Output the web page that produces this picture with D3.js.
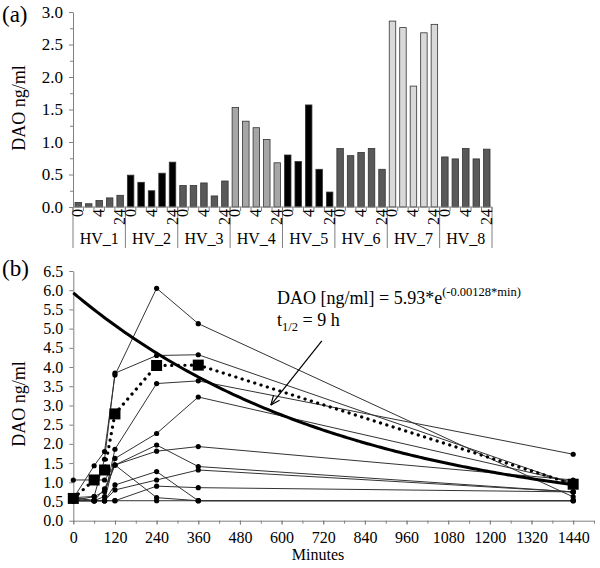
<!DOCTYPE html>
<html><head><meta charset="utf-8">
<script src="https://cdn.jsdelivr.net/npm/d3@7"></script>
<style>body{margin:0;background:#fff}svg{display:block}</style>
</head><body>
<svg id="c" width="600" height="568"></svg>
<script>
// ---------- Panel (a) data ----------
const groups = ["HV_1","HV_2","HV_3","HV_4","HV_5","HV_6","HV_7","HV_8"];
const timeLabels = ["0","","4","","24"];
const groupColors = ["#595959","#000000","#595959","#a6a6a6","#000000","#595959","#d9d9d9","#595959"];
const hv1 = [0.07,0.05,0.10,0.14,0.18];
const hv2 = [0.49,0.38,0.25,0.52,0.69];
const hv3 = [0.33,0.33,0.37,0.17,0.40];
const hv4 = [1.53,1.32,1.22,1.04,0.68];
const hv5 = [0.80,0.70,1.57,0.58,0.23];
const hv6 = [0.90,0.79,0.84,0.90,0.58];
const hv7 = [2.86,2.76,1.86,2.68,2.81];
const hv8 = [0.77,0.74,0.90,0.74,0.89];
const barValues = [hv1,hv2,hv3,hv4,hv5,hv6,hv7,hv8];
const yTicksA = [0,0.5,1.0,1.5,2.0,2.5,3.0];

// ---------- Panel (b) data ----------
const times = [0,60,90,120,240,360,1440];
const s1  = [0.58,1.43,1.80,3.79,6.05,5.13,0.62];
const s2  = [0.60,0.63,1.60,3.84,4.30,4.32,0.95];
const s3  = [0.52,0.52,0.63,1.86,3.57,3.64,1.73];
const s4  = [0.60,0.52,0.52,1.62,2.27,3.22,1.00];
const s5  = [1.06,1.06,1.06,1.45,1.97,1.41,0.75];
const s6  = [0.52,0.63,0.76,1.45,1.81,1.93,1.06];
const s7  = [0.60,0.52,0.52,0.93,1.28,0.52,0.52];
const s8  = [0.52,0.52,0.52,0.80,1.06,1.32,0.75];
const s9  = [0.52,0.52,0.52,0.52,0.90,0.86,0.75];
const s10 = [0.52,0.52,0.83,1.45,0.60,0.52,0.52];
const s11 = [0.52,0.52,0.52,0.52,0.52,0.52,0.52];
const subjects = [s1,s2,s3,s4,s5,s6,s7,s8,s9,s10,s11];
const meanValues = [0.58,1.06,1.32,2.78,4.04,4.05,0.95];
const fitA = 5.93, fitK = 0.00128;
const yTicksB = d3.range(0, 6.51, 0.5);
const xTicksB = d3.range(0, 1441, 120);
const xMinorB = d3.range(0, 1501, 60);

const font = '"Liberation Serif","Times New Roman",Times,serif';
const axisColor = "#808080";
const svg = d3.select("#c");

// ================= Panel (a) =================
const cats = groups.flatMap((g, gi) => timeLabels.map((t, ti) => ({g, gi, ti, t, v: barValues[gi][ti], key: g + "_" + ti})));
const xA = d3.scaleBand().domain(cats.map(d => d.key)).range([73, 492]).paddingInner(0.38).paddingOuter(0.19);
const yA = d3.scaleLinear().domain([0, 3]).range([207, 12]);
const gA = svg.append("g");

function styleAxis(g, fs) {
  g.attr("font-family", null).attr("font-size", null);
  g.select(".domain").attr("stroke", axisColor);
  g.selectAll(".tick line").attr("stroke", axisColor);
  g.selectAll(".tick text").attr("fill", "#000").style("font-size", fs + "px");
}

gA.append("g").attr("transform", "translate(73,0)")
  .call(d3.axisLeft(yA).tickValues(d3.range(0.25, 3, 0.5)).tickSize(3).tickFormat(""))
  .call(g => { g.select(".domain").remove(); g.selectAll("line").attr("stroke", axisColor); });
gA.append("g").attr("transform", "translate(73,0)")
  .call(d3.axisLeft(yA).tickValues(yTicksA).tickFormat(d3.format(".1f")).tickSize(4).tickSizeOuter(0).tickPadding(6))
  .call(g => styleAxis(g, 17));

gA.selectAll("rect.bar").data(cats).join("rect").attr("class", "bar")
  .attr("x", d => xA(d.key)).attr("width", xA.bandwidth())
  .attr("y", d => yA(d.v)).attr("height", d => yA(0) - yA(d.v))
  .attr("fill", d => groupColors[d.gi]).attr("stroke", "#333").attr("stroke-width", 0.8);

const half = xA.step() * xA.paddingInner() / 2;
const bnds = cats.map(d => xA(d.key) - half).concat([xA(cats[cats.length - 1].key) + xA.bandwidth() + half]);
gA.append("line").attr("x1", bnds[0]).attr("x2", bnds[bnds.length - 1]).attr("y1", yA(0)).attr("y2", yA(0)).attr("stroke", axisColor);
gA.selectAll("line.ct").data(bnds).join("line").attr("class", "ct")
  .attr("x1", d => d).attr("x2", d => d).attr("y1", yA(0)).attr("y2", yA(0) + 4).attr("stroke", axisColor);
const sepX = groups.map((g, gi) => xA(g + "_0") - half).concat([bnds[bnds.length - 1]]);
gA.selectAll("line.sep").data(sepX).join("line").attr("class", "sep")
  .attr("x1", d => d).attr("x2", d => d).attr("y1", yA(0)).attr("y2", 248).attr("stroke", axisColor);
gA.selectAll("text.tl").data(cats.filter(d => d.t !== "")).join("text").attr("class", "tl")
  .attr("transform", d => `translate(${xA(d.key) + xA.bandwidth() / 2 + 5},${yA(0) + 2}) rotate(-90)`)
  .attr("text-anchor", "end").style("font-size", "16px").text(d => d.t);
gA.selectAll("text.gl").data(groups).join("text").attr("class", "gl")
  .attr("x", (g, gi) => (sepX[gi] + sepX[gi + 1]) / 2).attr("y", 244)
  .attr("text-anchor", "middle").style("font-size", "16px").text(g => g);
svg.append("text").attr("x", 2).attr("y", 22).style("font-size", "23px").text("(a)");
svg.append("text").attr("transform", "translate(25,108) rotate(-90)").attr("text-anchor", "middle")
  .style("font-size", "18px").text("DAO ng/ml");

// ================= Panel (b) =================
const xB = d3.scaleLinear().domain([0, 1500]).range([73.3, 594]);
const yB = d3.scaleLinear().domain([0, 6.5]).range([520.7, 271]);
const gB = svg.append("g");

gB.append("g").attr("transform", `translate(0,${yB(0)})`)
  .call(d3.axisBottom(xB).tickValues(xMinorB).tickSize(3).tickFormat("").tickSizeOuter(0))
  .call(g => styleAxis(g, 16));
gB.append("g").attr("transform", `translate(0,${yB(0)})`)
  .call(d3.axisBottom(xB).tickValues(xTicksB).tickFormat(d3.format("d")).tickSize(4).tickSizeOuter(0).tickPadding(7))
  .call(g => { g.select(".domain").remove(); styleAxis(g, 16); });
gB.append("g").attr("transform", `translate(${xB(0)},0)`)
  .call(d3.axisLeft(yB).tickValues(yTicksB).tickFormat(d3.format(".1f")).tickSize(4).tickSizeOuter(0).tickPadding(6))
  .call(g => styleAxis(g, 16));

const line = d3.line().x((v, i) => xB(times[i])).y(v => yB(v));
gB.selectAll("path.subj").data(subjects).join("path").attr("class", "subj")
  .attr("d", line).attr("fill", "none").attr("stroke", "#333").attr("stroke-width", 1);
const pts = subjects.flatMap(s => s.map((v, i) => ({t: times[i], v})));
gB.selectAll("circle.pt").data(pts).join("circle").attr("class", "pt")
  .attr("cx", d => xB(d.t)).attr("cy", d => yB(d.v)).attr("r", 2.6).attr("fill", "#000");

const fitT = d3.range(0, 1441, 10);
gB.append("path").datum(fitT)
  .attr("d", d3.line().x(t => xB(t)).y(t => yB(fitA * Math.exp(-fitK * t))).curve(d3.curveBasis))
  .attr("fill", "none").attr("stroke", "#000").attr("stroke-width", 3);

gB.append("path").datum(meanValues).attr("d", line).attr("fill", "none")
  .attr("stroke", "#000").attr("stroke-width", 3.2).attr("stroke-dasharray", "0.1 6.5").attr("stroke-linecap", "round");
gB.selectAll("rect.mean").data(meanValues).join("rect").attr("class", "mean")
  .attr("x", (v, i) => xB(times[i]) - 5.5).attr("y", v => yB(v) - 5.5).attr("width", 11).attr("height", 11).attr("fill", "#000");

const eq = gB.append("text").attr("x", 277).attr("y", 304).style("font-size", "18px");
eq.append("tspan").text("DAO [ng/ml] = 5.93*e");
eq.append("tspan").attr("dy", -8).style("font-size", "12.5px").text("(-0.00128*min)");
const th = gB.append("text").attr("x", 277).attr("y", 326).style("font-size", "18px");
th.append("tspan").text("t");
th.append("tspan").attr("dy", 5).style("font-size", "12.5px").text("1/2");
th.append("tspan").attr("dy", -5).text(" = 9 h");

const tail = [716, 4.68], tip = [569, 3.01];
const x1 = xB(tail[0]), y1 = yB(tail[1]), x2 = xB(tip[0]), y2 = yB(tip[1]);
gB.append("line").attr("x1", x1).attr("y1", y1).attr("x2", x2).attr("y2", y2).attr("stroke", "#000").attr("stroke-width", 1.2);
const ang = Math.atan2(y2 - y1, x2 - x1), L = 10, spread = 0.4;
[ang + Math.PI - spread, ang + Math.PI + spread].forEach(a => {
  gB.append("line").attr("x1", x2).attr("y1", y2).attr("x2", x2 + L * Math.cos(a)).attr("y2", y2 + L * Math.sin(a))
    .attr("stroke", "#000").attr("stroke-width", 1.2);
});

svg.append("text").attr("x", 2).attr("y", 276).style("font-size", "23px").text("(b)");
svg.append("text").attr("transform", "translate(25,404) rotate(-90)").attr("text-anchor", "middle")
  .style("font-size", "18px").text("DAO ng/ml");
svg.append("text").attr("x", 318).attr("y", 560).attr("text-anchor", "middle").style("font-size", "16px").text("Minutes");
svg.selectAll("text").style("font-family", font);
</script>
</body></html>
